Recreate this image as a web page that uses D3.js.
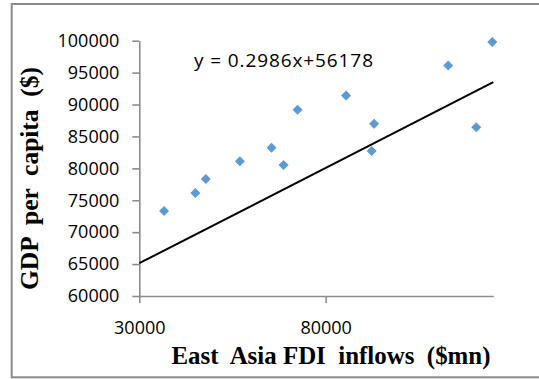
<!DOCTYPE html>
<html>
<head>
<meta charset="utf-8">
<script src="https://cdn.jsdelivr.net/npm/d3@7"></script>
<style>
  html, body { margin: 0; padding: 0; background: #fff; }
  svg { display: block; }
  .axis-title { white-space: pre; }
</style>
</head>
<body>
<div id="chart"></div>
<script>
// East Asia FDI inflows ($mn) against GDP per capita ($)
const fdiInflows = [36640, 45050, 47850, 56990, 65480, 68710, 72470, 85480, 93010, 92370, 112900, 120430, 124730];
const gdpPerCapita = [73320, 76140, 78340, 81110, 83245, 80530, 89200, 91400, 87000, 82730, 96100, 86440, 99810];

// Linear trendline shown on the chart
const trendSlope = 0.2986;
const trendIntercept = 56178;
const trendLabel = "y = 0.2986x+56178";

const xTicks = [30000, 80000];
const yTicks = [60000, 65000, 70000, 75000, 80000, 85000, 90000, 95000, 100000];
const xDomain = [30000, 125000];
const yDomain = [60000, 100000];

const width = 539, height = 379;
const plot = { left: 139.3, right: 493.3, top: 40.7, bottom: 296 };

const svg = d3.select("#chart").append("svg")
  .attr("width", width).attr("height", height);

// Chart area frame
svg.append("rect")
  .attr("x", 11.7).attr("y", 4)
  .attr("width", 560).attr("height", 373.3)
  .attr("fill", "#fff")
  .attr("stroke", "#8a8a8a").attr("stroke-width", 2);

const x = d3.scaleLinear().domain(xDomain).range([plot.left, plot.right]);
const y = d3.scaleLinear().domain(yDomain).range([plot.bottom, plot.top]);

const axisColor = "#8c8c8c";
const tickFont = "'Open Sans', 'Noto Sans', sans-serif";

const yAxis = svg.append("g")
  .attr("transform", `translate(${plot.left},0)`)
  .call(d3.axisLeft(y).tickValues(yTicks).tickSize(7).tickPadding(13)
    .tickFormat(d3.format("d")).tickSizeOuter(0));

const xAxis = svg.append("g")
  .attr("transform", `translate(0,${plot.bottom})`)
  .call(d3.axisBottom(x).tickValues(xTicks).tickSize(7).tickPadding(18)
    .tickFormat(d3.format("d")).tickSizeOuter(0));

[xAxis, yAxis].forEach(g => {
  g.select(".domain").attr("stroke", axisColor).attr("stroke-width", 1.6);
  g.selectAll(".tick line").attr("stroke", axisColor).attr("stroke-width", 1.6);
  g.selectAll(".tick text")
    .attr("font-family", tickFont)
    .attr("font-size", 18)
    .attr("fill", "#000");
});

// Trendline across the full x range
const trend = xDomain.map(v => [v, trendSlope * v + trendIntercept]);
svg.append("path")
  .datum(trend)
  .attr("d", d3.line().x(d => x(d[0])).y(d => y(d[1])))
  .attr("fill", "none")
  .attr("stroke", "#000")
  .attr("stroke-width", 2);

// Diamond markers
const half = 5;
const diamond = `M0,${-half}L${half},0L0,${half}L${-half},0Z`;
svg.append("g").selectAll("path")
  .data(fdiInflows.map((v, i) => [v, gdpPerCapita[i]]))
  .join("path")
  .attr("d", diamond)
  .attr("transform", d => `translate(${x(d[0])},${y(d[1])})`)
  .attr("fill", "#5b9bd5");

// Trendline equation
svg.append("text")
  .attr("x", 194).attr("y", 67)
  .attr("font-family", tickFont)
  .attr("font-size", 19)
  .attr("fill", "#000")
  .attr("textLength", 179)
  .attr("lengthAdjust", "spacing")
  .text(trendLabel);

const titleFont = "'Liberation Serif', 'DejaVu Serif', serif";

// Axis titles
svg.append("text")
  .attr("class", "axis-title")
  .attr("x", 331).attr("y", 364)
  .attr("text-anchor", "middle")
  .attr("font-family", titleFont)
  .attr("font-weight", "bold")
  .attr("font-size", 26)
  .attr("fill", "#000")
  .attr("textLength", 319)
  .attr("lengthAdjust", "spacingAndGlyphs")
  .text("East  Asia FDI  inflows  ($mn)");

svg.append("text")
  .attr("class", "axis-title")
  .attr("transform", "translate(38,178.5) rotate(-90)")
  .attr("text-anchor", "middle")
  .attr("font-family", titleFont)
  .attr("font-weight", "bold")
  .attr("font-size", 26)
  .attr("fill", "#000")
  .attr("textLength", 223)
  .attr("lengthAdjust", "spacingAndGlyphs")
  .text("GDP  per  capita  ($)");
</script>
</body>
</html>
